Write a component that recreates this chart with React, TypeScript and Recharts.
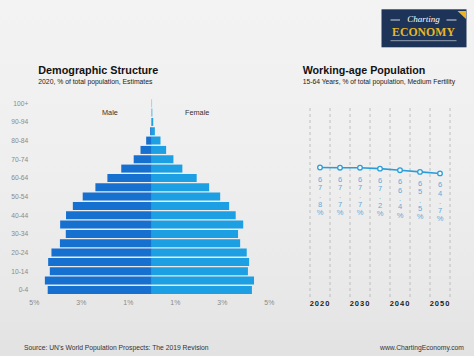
import React from 'react';
import {
  BarChart, Bar, XAxis, YAxis, LineChart, Line, LabelList, ReferenceLine,
} from 'recharts';

// ---------- Data ----------
const ageGroups = [
  '0-4', '5-9', '10-14', '15-19', '20-24', '25-29', '30-34', '35-39', '40-44', '45-49',
  '50-54', '55-59', '60-64', '65-69', '70-74', '75-79', '80-84', '85-89', '90-94', '95-99', '100+',
];
const malePct = [
  4.43, 4.55, 4.34, 4.41, 4.27, 3.91, 3.66, 3.90, 3.65, 3.36,
  2.94, 2.40, 1.89, 1.30, 0.77, 0.48, 0.24, 0.07, 0.02, 0.01, 0.005,
];
const femalePct = [
  4.26, 4.35, 4.09, 4.14, 4.04, 3.76, 3.67, 3.89, 3.57, 3.29,
  2.91, 2.44, 1.91, 1.30, 0.92, 0.61, 0.37, 0.13, 0.06, 0.02, 0.01,
];
const pyramidTicks = [-5, -3, -1, 1, 3, 5];

const years = [2020, 2025, 2030, 2035, 2040, 2045, 2050];
const workingAge = [67.8, 67.7, 67.7, 67.2, 66.4, 65.5, 64.7];
const yearTicks = [2020, 2030, 2040, 2050];

// ---------- Tables ----------
const pyramidData = ageGroups.map((age, i) => ({
  age,
  male: -malePct[i],
  female: femalePct[i],
}));
const lineData = years.map((year, i) => ({ year, value: workingAge[i] }));
const half = (years[1] - years[0]) / 2;
const boundaries = [...years.map((y) => y - half), years[years.length - 1] + half];

const FONT = '"Liberation Sans", Arial, sans-serif';

const VertLabel = (props: any) => {
  const { x, y, value } = props;
  const chars = `${value}%`.split('');
  return (
    <text x={x} y={y + 14} textAnchor="middle" fill="#5eaad8" fontSize={7.5} fontFamily={FONT}>
      {chars.map((c, i) => (
        <tspan key={i} x={x} dy={i === 0 ? 0 : 8.4}>{c}</tspan>
      ))}
    </text>
  );
};

export default function App() {
  return (
    <div
      style={{
        position: 'relative',
        width: 474,
        height: 356,
        overflow: 'hidden',
        fontFamily: FONT,
        background: 'linear-gradient(180deg, #f3f3f3 0%, #efefef 45%, #e9e9e9 80%, #e2e2e2 100%)',
      }}
    >
      <style>{'body{margin:0}'}</style>

      {/* Logo */}
      <svg style={{ position: 'absolute', left: 0, top: 0 }} width={474} height={60}>
        <rect x={381.5} y={9.3} width={85} height={38} fill="#1d3458" />
        <line x1={390.5} y1={20} x2={400} y2={20} stroke="#ffffff" strokeWidth={0.8} />
        <line x1={446.5} y1={20} x2={456.5} y2={20} stroke="#ffffff" strokeWidth={0.8} />
        <text x={423.5} y={22} textAnchor="middle" fill="#ffffff" fontSize={9}
          fontStyle="italic" fontFamily='"Liberation Serif", serif'>Charting</text>
        <text x={423.5} y={36} textAnchor="middle" fill="#e9b526" fontSize={11.8}
          fontWeight={700} fontFamily='"Liberation Serif", serif'>ECONOMY</text>
        <line x1={390.5} y1={40.7} x2={456.5} y2={40.7} stroke="#c9ccd4" strokeWidth={0.7} />
        <polygon points="457.5,11 466,11 466,19" fill="#e9b526" />
      </svg>

      {/* Titles */}
      <div style={{ position: 'absolute', left: 38.3, top: 64, fontSize: 10.8, fontWeight: 700, color: '#111', whiteSpace: 'nowrap', lineHeight: '13px' }}>
        Demographic Structure
      </div>
      <div style={{ position: 'absolute', left: 38.3, top: 78, fontSize: 6.8, color: '#222', whiteSpace: 'nowrap', lineHeight: '8px' }}>
        2020, % of total population, Estimates
      </div>
      <div style={{ position: 'absolute', left: 302.7, top: 64, fontSize: 10.7, fontWeight: 700, color: '#111', whiteSpace: 'nowrap', lineHeight: '13px' }}>
        Working-age Population
      </div>
      <div style={{ position: 'absolute', left: 302.7, top: 78, fontSize: 6.75, color: '#222', whiteSpace: 'nowrap', lineHeight: '8px' }}>
        15-64 Years, % of total population, Medium Fertility
      </div>

      {/* Pyramid */}
      <div style={{ position: 'absolute', left: 0, top: 90 }}>
        <BarChart
          width={280}
          height={230}
          data={pyramidData}
          layout="vertical"
          stackOffset="sign"
          barCategoryGap="6%"
          margin={{ top: 8.7, right: 10.7, bottom: 5.3, left: 4.3 }}
        >
          <XAxis
            type="number"
            domain={[-5, 5]}
            ticks={pyramidTicks}
            tickFormatter={(v: number) => `${Math.abs(v)}%`}
            axisLine={false}
            tickLine={false}
            tickSize={0}
            tickMargin={5}
            height={20}
            tick={{ fontSize: 6.9, fill: '#8a8a8a', fontFamily: FONT }}
          />
          <YAxis
            type="category"
            dataKey="age"
            reversed
            interval={1}
            width={30}
            axisLine={false}
            tickLine={false}
            tickSize={0}
            tickMargin={6}
            tick={{ fontSize: 6.7, fill: '#8a8a8a', fontFamily: FONT }}
          />
          <Bar dataKey="male" stackId="a" fill="#1670cf" isAnimationActive={false} />
          <Bar dataKey="female" stackId="a" fill="#1c9fe3" isAnimationActive={false} />
        </BarChart>
      </div>

      <div style={{ position: 'absolute', left: 102, top: 107.5, fontSize: 7.3, color: '#333', lineHeight: '9px' }}>Male</div>
      <div style={{ position: 'absolute', left: 185, top: 107.5, fontSize: 7.3, color: '#333', lineHeight: '9px' }}>Female</div>

      {/* Working-age line */}
      <div style={{ position: 'absolute', left: 290, top: 96 }}>
        <LineChart
          width={180}
          height={230}
          data={lineData}
          margin={{ top: 10, right: 20, bottom: 9, left: 20 }}
        >
          <XAxis
            type="number"
            dataKey="year"
            domain={[boundaries[0], boundaries[boundaries.length - 1]]}
            ticks={yearTicks}
            axisLine={false}
            tickLine={false}
            tickSize={0}
            tickMargin={4}
            height={20}
            tick={{ fontSize: 7.5, fontWeight: 700, fill: '#222', fontFamily: FONT, letterSpacing: 1 }}
          />
          <YAxis type="number" domain={[0, 100]} hide />
          {boundaries.map((b) => (
            <ReferenceLine key={b} x={b} stroke="#b9b9b9" strokeDasharray="3 3" strokeWidth={0.9} />
          ))}
          <Line
            type="linear"
            dataKey="value"
            stroke="#2a9dd8"
            strokeWidth={1.6}
            dot={{ r: 2.3, fill: '#ffffff', stroke: '#2a9dd8', strokeWidth: 1.3 }}
            isAnimationActive={false}
          >
            <LabelList dataKey="value" content={VertLabel} />
          </Line>
        </LineChart>
      </div>

      {/* Footer */}
      <div style={{ position: 'absolute', left: 24, top: 344, fontSize: 6.75, color: '#333', whiteSpace: 'nowrap', lineHeight: '8px' }}>
        Source: UN&apos;s World Population Prospects: The 2019 Revision
      </div>
      <div style={{ position: 'absolute', right: 10, top: 344, fontSize: 6.75, color: '#333', whiteSpace: 'nowrap', lineHeight: '8px' }}>
        www.ChartingEconomy.com
      </div>
    </div>
  );
}
